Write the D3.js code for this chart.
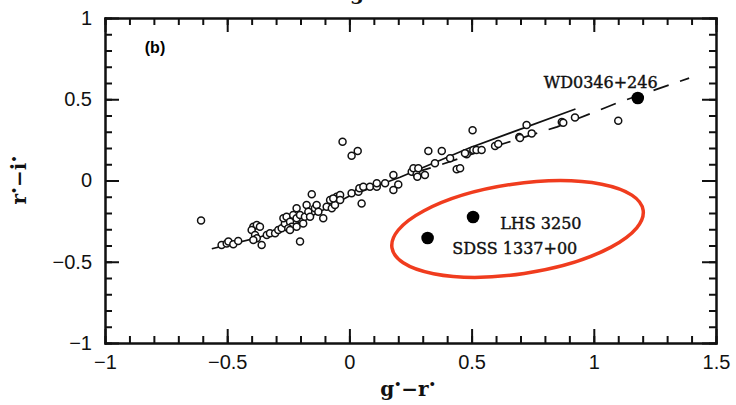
<!DOCTYPE html>
<meta charset="utf-8">
<style>
body { margin: 0; background: #fff; }
svg { display: block; }
.tick text { font: 20px "Liberation Sans", Arial, sans-serif; fill: #111; }
.axis path { stroke: #111; stroke-width: 2; }
.axis line { stroke: #111; stroke-width: 2; }
.lbl { font: 16px "DejaVu Serif", serif; fill: #111; stroke: #111; stroke-width: 0.4; }
.ttl { font: bold 20px "DejaVu Serif", serif; fill: #111; }
</style>
<svg width="736" height="405"></svg>
<script src="https://d3js.org/d3.v7.min.js"></script>
<script>

// g*-r* vs r*-i*, panel (b)

var xTicks = [-1, -0.5, 0, 0.5, 1, 1.5];
var yTicks = [-1, -0.5, 0, 0.5, 1];

// open circles: [g-r, r-i]
var stars = [
  [-0.607, -0.246], [-0.523, -0.397], [-0.502, -0.387], [-0.495, -0.376], [-0.475, -0.393],
  [-0.455, -0.372], [-0.393, -0.284], [-0.379, -0.274], [-0.366, -0.284], [-0.400, -0.305],
  [-0.386, -0.335], [-0.379, -0.356], [-0.393, -0.366], [-0.359, -0.397], [-0.338, -0.335],
  [-0.325, -0.325], [-0.304, -0.325], [-0.291, -0.305], [-0.277, -0.294], [-0.264, -0.264],
  [-0.270, -0.233], [-0.257, -0.223], [-0.243, -0.254], [-0.236, -0.284], [-0.250, -0.294],
  [-0.230, -0.212], [-0.216, -0.171], [-0.216, -0.233], [-0.202, -0.212], [-0.216, -0.284],
  [-0.243, -0.305], [-0.202, -0.376], [-0.189, -0.264], [-0.182, -0.223], [-0.175, -0.151],
  [-0.168, -0.192], [-0.161, -0.223], [-0.154, -0.085], [-0.141, -0.171], [-0.134, -0.151],
  [-0.127, -0.192], [-0.107, -0.233], [-0.093, -0.161], [-0.079, -0.120], [-0.072, -0.171],
  [-0.059, -0.151], [-0.052, -0.100], [-0.066, -0.110], [-0.038, -0.089], [-0.038, -0.120],
  [-0.028, 0.239], [0.009, 0.153], [0.034, 0.182], [0.009, -0.079], [0.037, -0.069],
  [0.041, -0.048], [0.057, -0.038], [0.084, -0.038], [0.112, -0.038], [0.112, -0.017],
  [0.146, -0.017], [0.050, -0.142], [0.180, 0.034], [0.180, -0.058], [0.200, -0.024],
  [0.255, 0.054], [0.262, 0.075], [0.275, 0.038], [0.282, 0.075], [0.278, 0.023],
  [0.309, 0.034], [0.323, 0.182], [0.378, 0.182], [0.350, 0.106], [0.412, 0.137],
  [0.439, 0.069], [0.453, 0.075], [0.480, 0.161], [0.473, 0.167], [0.507, 0.188],
  [0.520, 0.188], [0.541, 0.188], [0.504, 0.309], [0.596, 0.212], [0.609, 0.225],
  [0.695, 0.268], [0.698, 0.262], [0.725, 0.342], [0.746, 0.290], [0.869, 0.360],
  [0.875, 0.356], [0.923, 0.387], [1.100, 0.368]
];

// model sequences
var solidCurve = [
  [-0.563, -0.420], [-0.365, -0.348], [-0.20, -0.255], [0.0, -0.095],
  [0.207, 0.020], [0.49, 0.200], [0.925, 0.440]
];
var dashedCurve = [
  [0.27, 0.050], [0.36, 0.090], [0.60, 0.212], [0.85, 0.330], [1.10, 0.480], [1.39, 0.630]
];

// named objects
var named = [
  { name: "WD0346+246", x: 1.18, y: 0.508, lx: 0.795, ly: 0.572 },
  { name: "LHS 3250", x: 0.506, y: -0.225, lx: 0.617, ly: -0.298 },
  { name: "SDSS 1337+00", x: 0.32, y: -0.354, lx: 0.421, ly: -0.453 }
];

var svg = d3.select("svg");
var padL = 105, padR = 716, padT = 18, padB = 343;

var x = d3.scaleLinear().domain([-1, 1.5]).range([padL, padR]);
var y = d3.scaleLinear().domain([-1, 1]).range([padB, padT]);
var fmt = d3.format("~g");
var minorX = d3.range(-10, 16).map(function(i) { return i / 10; });
var minorY = d3.range(-10, 11).map(function(i) { return i / 10; });

function addAxis(axisFn, scale, tr, vals, size, pad, labels) {
  var a = axisFn(scale).tickValues(vals).tickSizeInner(size).tickSizeOuter(0).tickPadding(pad)
    .tickFormat(labels ? fmt : "");
  var g = svg.append("g").attr("class", "axis").attr("transform", tr).call(a);
  g.select(".domain").attr("stroke-linecap", "square");
  return g;
}

// minor ticks
addAxis(d3.axisBottom, x, "translate(0," + padB + ")", minorX, -7, 0, false);
addAxis(d3.axisTop, x, "translate(0," + padT + ")", minorX, -7, 0, false);
addAxis(d3.axisLeft, y, "translate(" + padL + ",0)", minorY, -7, 0, false);
addAxis(d3.axisRight, y, "translate(" + padR + ",0)", minorY, -7, 0, false);
// major ticks + labels
addAxis(d3.axisBottom, x, "translate(0," + padB + ")", xTicks, -14, 12, true);
addAxis(d3.axisTop, x, "translate(0," + padT + ")", xTicks, -14, 0, false);
addAxis(d3.axisLeft, y, "translate(" + padL + ",0)", yTicks, -14, 13, true);
addAxis(d3.axisRight, y, "translate(" + padR + ",0)", yTicks, -14, 0, false);

var line = d3.line().x(function(d) { return x(d[0]); }).y(function(d) { return y(d[1]); });

svg.append("path").datum(solidCurve).attr("d", line)
  .attr("fill", "none").attr("stroke", "#111").attr("stroke-width", 1.7);
svg.append("path").datum(dashedCurve).attr("d", line)
  .attr("fill", "none").attr("stroke", "#111").attr("stroke-width", 1.7)
  .attr("stroke-dasharray", "16,12");

svg.append("g").selectAll("circle").data(stars).enter().append("circle")
  .attr("cx", function(d) { return x(d[0]); })
  .attr("cy", function(d) { return y(d[1]); })
  .attr("r", 3.5)
  .attr("fill", "#fff").attr("stroke", "#111").attr("stroke-width", 1.5);

svg.append("g").selectAll("circle").data(named).enter().append("circle")
  .attr("cx", function(d) { return x(d.x); })
  .attr("cy", function(d) { return y(d.y); })
  .attr("r", 6.3).attr("fill", "#000");

svg.append("g").selectAll("text").data(named).enter().append("text")
  .attr("class", "lbl")
  .attr("x", function(d) { return x(d.lx); })
  .attr("y", function(d) { return y(d.ly); })
  .text(function(d) { return d.name; });

// red ring round the two odd objects
svg.append("ellipse")
  .attr("cx", x(0.688)).attr("cy", y(-0.298))
  .attr("rx", 127).attr("ry", 45)
  .attr("transform", "rotate(-8.5," + x(0.688) + "," + y(-0.298) + ")")
  .attr("fill", "none").attr("stroke", "#f03c1e").attr("stroke-width", 3.5);

svg.append("text")
  .attr("x", 155).attr("y", 53)
  .attr("text-anchor", "middle")
  .style("font", "bold 16px 'Liberation Sans', Arial, sans-serif")
  .text("(b)");

// axis titles
var xt = svg.append("text").attr("class", "ttl")
  .attr("x", 408).attr("y", 396).attr("text-anchor", "middle");
xt.append("tspan").text("g");
xt.append("tspan").attr("dy", -8).style("font-size", "11px").text("•");
xt.append("tspan").attr("dy", 8).text("−r");
xt.append("tspan").attr("dy", -8).style("font-size", "11px").text("•");

var yt = svg.append("text").attr("class", "ttl")
  .attr("transform", "translate(26,180) rotate(-90)").attr("text-anchor", "middle");
yt.append("tspan").text("r");
yt.append("tspan").attr("dy", -8).style("font-size", "11px").text("•");
yt.append("tspan").attr("dy", 8).text("−i");
yt.append("tspan").attr("dy", -8).style("font-size", "11px").text("•");

// tail of the panel title cut off at the top edge
svg.append("text").attr("class", "ttl")
  .attr("x", 357).attr("y", 0).attr("text-anchor", "middle").text("g");

</script>
